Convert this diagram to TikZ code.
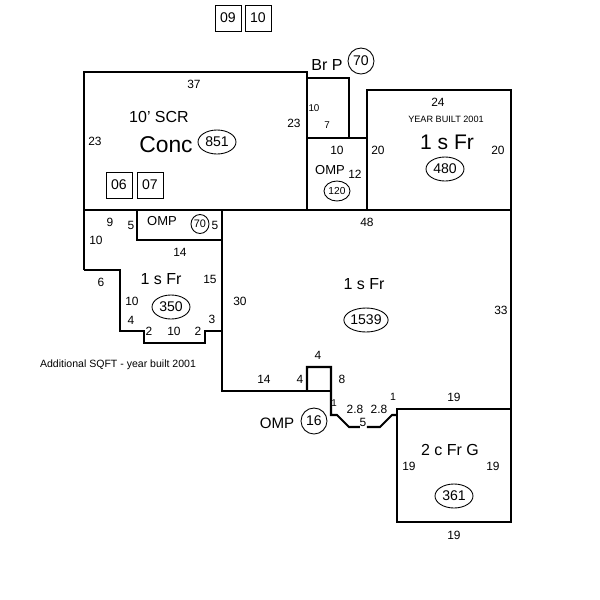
\documentclass[tikz,border=0pt]{standalone}
\usepackage{fontspec}
\setmainfont{Liberation Sans}
\usetikzlibrary{shapes.geometric}
\tikzset{
  wall/.style={line width=1.15pt, line join=miter, line cap=butt},
  tiny/.style={inner sep=0pt, font=\fontsize{5.6pt}{6pt}\selectfont},
  dim/.style={inner sep=0pt, font=\fontsize{6.8pt}{8pt}\selectfont},
  omp/.style={inner sep=0pt, font=\fontsize{7.4pt}{9pt}\selectfont},
  area/.style={inner sep=0pt, font=\fontsize{9.1pt}{11pt}\selectfont},
  bigarea/.style={inner sep=0pt, font=\fontsize{12pt}{14pt}\selectfont},
  sqft/.style={draw, line width=0.5pt, ellipse, inner sep=0pt, minimum width=38*0.02cm, minimum height=24*0.02cm, font=\fontsize{8pt}{9pt}\selectfont},
  tag/.style={draw, line width=0.5pt, rectangle, inner sep=0pt, minimum size=26*0.02cm, font=\fontsize{8pt}{9pt}\selectfont}
}
\begin{document}
\begin{tikzpicture}[x=0.02cm,y=-0.02cm]
  \useasboundingbox (0,0) rectangle (600,600);
  % the concrete slab and porches
  \draw [wall] (84,270) -- (84,72) -- (307,72) -- (307,210);
  \draw [wall] (84,210) -- (511,210);
  \draw [wall] (307,78) -- (349,78) -- (349,138);
  \draw [wall] (307,138) -- (367,138);
  % upper one storey part
  \draw [wall] (367,210) -- (367,90) -- (511,90) -- (511,522) -- (397,522) -- (397,409) -- (511,409);
  % left wing
  \draw [wall] (137,210) -- (137,240) -- (222,240);
  \draw [wall] (222,210) -- (222,391) -- (331,391);
  \draw [wall] (84,270) -- (120,270) -- (120,331) -- (144,331) -- (144,343) -- (205,343) -- (205,331) -- (222,331);
  % front porch
  \draw [wall] (307,391) -- (307,367) -- (331,367) -- (331,415) -- (337,415) -- (349,427) -- (360,427);
  \draw [wall] (367,427) -- (380,427) -- (392,415) -- (397,415);
  % tags
  \node [tag] (tag09) at (228,18) {09};
  \node [tag] (tag10) at (258,18) {10};
  \node [tag] (tag06) at (119,185) {06};
  \node [tag] (tag07) at (150,185) {07};
  % concrete
  \node [dim] (d37) at (194,84) {37};
  \node [dim] (d23a) at (95,141) {23};
  \node [dim] (d23b) at (294,123) {23};
  \node [area] (scr) at (159,117) {10\symbol{39} SCR};
  \node [bigarea, font=\fontsize{13pt}{15pt}\selectfont] (conc) at (166,145) {Conc};
  \node [sqft] (a851) at (217,142) {851};
  % breezeway porch
  \node [area] (brp) at (327,65) {Br P};
  \node [sqft, minimum width=26*0.02cm, minimum height=26*0.02cm] (a70a) at (361,61) {70};
  \node [tiny] (d10a) at (314,108) {10};
  \node [tiny] (d7) at (327,125) {7};
  % open porch
  \node [dim] (d10b) at (337,150) {10};
  \node [omp] (omptop) at (330,170) {OMP};
  \node [dim] (d12) at (355,174) {12};
  \node [sqft, minimum width=26*0.02cm, minimum height=20*0.02cm, font=\fontsize{5.8pt}{7pt}\selectfont] (a120) at (337,191) {120};
  % upper one storey
  \node [dim] (d24) at (438,102) {24};
  \node [inner sep=0pt, font=\fontsize{5.2pt}{6pt}\selectfont] (built) at (446,119) {YEAR BUILT 2001};
  \node [bigarea] (sfrtop) at (447,142) {1 s Fr};
  \node [sqft] (a480) at (445,169) {480};
  \node [dim] (d20a) at (378,150) {20};
  \node [dim] (d20b) at (498,150) {20};
  % left wing
  \node [dim] (d9) at (110,222) {9};
  \node [dim] (d10c) at (96,240) {10};
  \node [dim] (d5a) at (131,225) {5};
  \node [omp] (ompleft) at (162,221) {OMP};
  \node [sqft, minimum width=18*0.02cm, minimum height=19*0.02cm, font=\fontsize{6.2pt}{7pt}\selectfont] (a70b) at (200,224) {70};
  \node [dim] (d5b) at (215,225) {5};
  \node [dim] (d14a) at (180,252) {14};
  \node [area] (sfrleft) at (161,279) {1 s Fr};
  \node [dim] (d15) at (210,279) {15};
  \node [dim] (d6) at (101,282) {6};
  \node [dim] (d10d) at (132,301) {10};
  \node [sqft] (a350) at (171,307) {350};
  \node [dim] (d4a) at (131,320) {4};
  \node [dim] (d3) at (212,319) {3};
  \node [dim] (d2a) at (149,331) {2};
  \node [dim] (d10e) at (174,331) {10};
  \node [dim] (d2b) at (198,331) {2};
  \node [inner sep=0pt, font=\fontsize{6pt}{7pt}\selectfont] (addl) at (118,365) {Additional SQFT - year built 2001};
  % main one storey
  \node [dim] (d48) at (367,222) {48};
  \node [area] (sfrmain) at (364,284) {1 s Fr};
  \node [sqft] (a1539) at (366,320) {1539};
  \node [dim] (d33) at (501,310) {33};
  \node [dim] (d30) at (240,301) {30};
  \node [dim] (d14b) at (264,379) {14};
  \node [dim] (d4b) at (300,379) {4};
  \node [dim] (d4c) at (318,355) {4};
  \node [dim] (d8) at (342,379) {8};
  % front porch
  \node [tiny] (d1a) at (334,403) {1};
  \node [area, font=\fontsize{8.6pt}{10pt}\selectfont] (ompfront) at (277,423) {OMP};
  \node [sqft, minimum width=26*0.02cm, minimum height=26*0.02cm] (a16) at (314,421) {16};
  \node [dim] (d28a) at (355,409) {2.8};
  \node [dim] (d28b) at (379,409) {2.8};
  \node [dim] (d5c) at (363,422) {5};
  \node [tiny, font=\fontsize{6pt}{7pt}\selectfont] (d1b) at (393,397) {1};
  % garage
  \node [dim] (d19a) at (454,397) {19};
  \node [area] (garage) at (450,450) {2 c Fr G};
  \node [dim] (d19b) at (409,466) {19};
  \node [dim] (d19c) at (493,466) {19};
  \node [sqft] (a361) at (454,496) {361};
  \node [dim] (d19d) at (454,535) {19};
\end{tikzpicture}
\end{document}
